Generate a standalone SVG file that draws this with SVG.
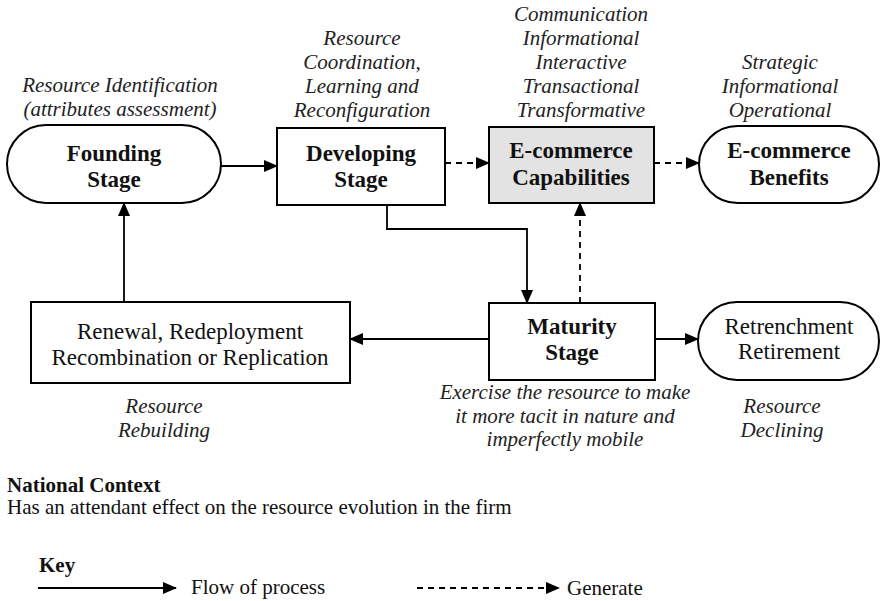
<svg xmlns="http://www.w3.org/2000/svg" width="882" height="601" viewBox="0 0 882 601">
<defs>
<marker id="ah" markerWidth="14" markerHeight="12" refX="13" refY="6" orient="auto" markerUnits="userSpaceOnUse">
<path d="M0,0 L14,6 L0,12 Z" fill="#000"/>
</marker>
<style>
.box{fill:#fff;stroke:#000;stroke-width:2}
.grey{fill:#e3e3e3}
.b{font-family:"Liberation Serif","Times New Roman",serif;font-weight:bold;font-size:23px;text-anchor:middle;fill:#111}
.r{font-family:"Liberation Serif","Times New Roman",serif;font-size:23px;text-anchor:middle;fill:#111}
.i{font-family:"Liberation Serif","Times New Roman",serif;font-style:italic;font-size:21px;text-anchor:middle;fill:#222}
.s{fill:none;stroke:#000;stroke-width:1.8}
.d{fill:none;stroke:#000;stroke-width:1.8;stroke-dasharray:6,5}
.l{font-family:"Liberation Serif","Times New Roman",serif;font-size:21px;fill:#111}
</style>
</defs>
<rect width="882" height="601" fill="#fff"/>

<g id="founding">
<rect class="box" x="7" y="125" width="214" height="78" rx="39"/>
<text class="b" x="114" y="161">Founding</text>
<text class="b" x="114" y="187">Stage</text>
<text class="i" x="120" y="92">Resource Identification</text>
<text class="i" x="120" y="116">(attributes assessment)</text>
</g>

<g id="developing">
<rect class="box" x="277" y="128" width="168" height="77"/>
<text class="b" x="361" y="161">Developing</text>
<text class="b" x="361" y="187">Stage</text>
<text class="i" x="362" y="45">Resource</text>
<text class="i" x="362" y="69">Coordination,</text>
<text class="i" x="362" y="93">Learning and</text>
<text class="i" x="362" y="117">Reconfiguration</text>
</g>

<g id="capabilities">
<rect class="box grey" x="489" y="127" width="165" height="76"/>
<text class="b" x="571" y="158">E-commerce</text>
<text class="b" x="571" y="185">Capabilities</text>
<text class="i" x="581" y="21">Communication</text>
<text class="i" x="581" y="45">Informational</text>
<text class="i" x="581" y="69">Interactive</text>
<text class="i" x="581" y="93">Transactional</text>
<text class="i" x="581" y="117">Transformative</text>
</g>

<g id="benefits">
<rect class="box" x="699" y="126" width="180" height="77" rx="38.5"/>
<text class="b" x="789" y="158">E-commerce</text>
<text class="b" x="789" y="185">Benefits</text>
<text class="i" x="780" y="69">Strategic</text>
<text class="i" x="780" y="93">Informational</text>
<text class="i" x="780" y="117">Operational</text>
</g>

<g id="maturity">
<rect class="box" x="489" y="303" width="166" height="77"/>
<text class="b" x="572" y="334">Maturity</text>
<text class="b" x="572" y="360">Stage</text>
<text class="i" x="565" y="399">Exercise the resource to make</text>
<text class="i" x="565" y="423">it more tacit in nature and</text>
<text class="i" x="565" y="446">imperfectly mobile</text>
</g>

<g id="retrenchment">
<rect class="box" x="698" y="302" width="181" height="78" rx="39"/>
<text class="r" x="789" y="334">Retrenchment</text>
<text class="r" x="789" y="359">Retirement</text>
<text class="i" x="782" y="413">Resource</text>
<text class="i" x="782" y="437">Declining</text>
</g>

<g id="renewal">
<rect class="box" x="31" y="302" width="319" height="81"/>
<text class="r" x="190" y="339">Renewal, Redeployment</text>
<text class="r" x="190" y="365">Recombination or Replication</text>
<text class="i" x="164" y="413">Resource</text>
<text class="i" x="164" y="437">Rebuilding</text>
</g>

<g id="connectors">
<line class="s" x1="221" y1="166" x2="277" y2="166" marker-end="url(#ah)"/>
<line class="d" x1="445" y1="163" x2="489" y2="163" marker-end="url(#ah)"/>
<line class="d" x1="654" y1="163" x2="699" y2="163" marker-end="url(#ah)"/>
<polyline class="s" points="387,205 387,229 527,229 527,303" marker-end="url(#ah)"/>
<line class="d" x1="580" y1="303" x2="580" y2="203" marker-end="url(#ah)"/>
<line class="s" x1="655" y1="339" x2="698" y2="339" marker-end="url(#ah)"/>
<line class="s" x1="489" y1="339" x2="350" y2="339" marker-end="url(#ah)"/>
<line class="s" x1="124" y1="302" x2="124" y2="203" marker-end="url(#ah)"/>
</g>

<g id="context">
<text class="l" x="7" y="492" font-weight="bold">National Context</text>
<text class="l" x="7" y="514">Has an attendant effect on the resource evolution in the firm</text>
</g>

<g id="key">
<text class="l" x="39" y="572" font-weight="bold">Key</text>
<line class="s" x1="38" y1="588" x2="176" y2="588" marker-end="url(#ah)"/>
<text class="l" x="191" y="594">Flow of process</text>
<line class="d" x1="417" y1="588" x2="559" y2="588" marker-end="url(#ah)"/>
<text class="l" x="567" y="595">Generate</text>
</g>
</svg>
